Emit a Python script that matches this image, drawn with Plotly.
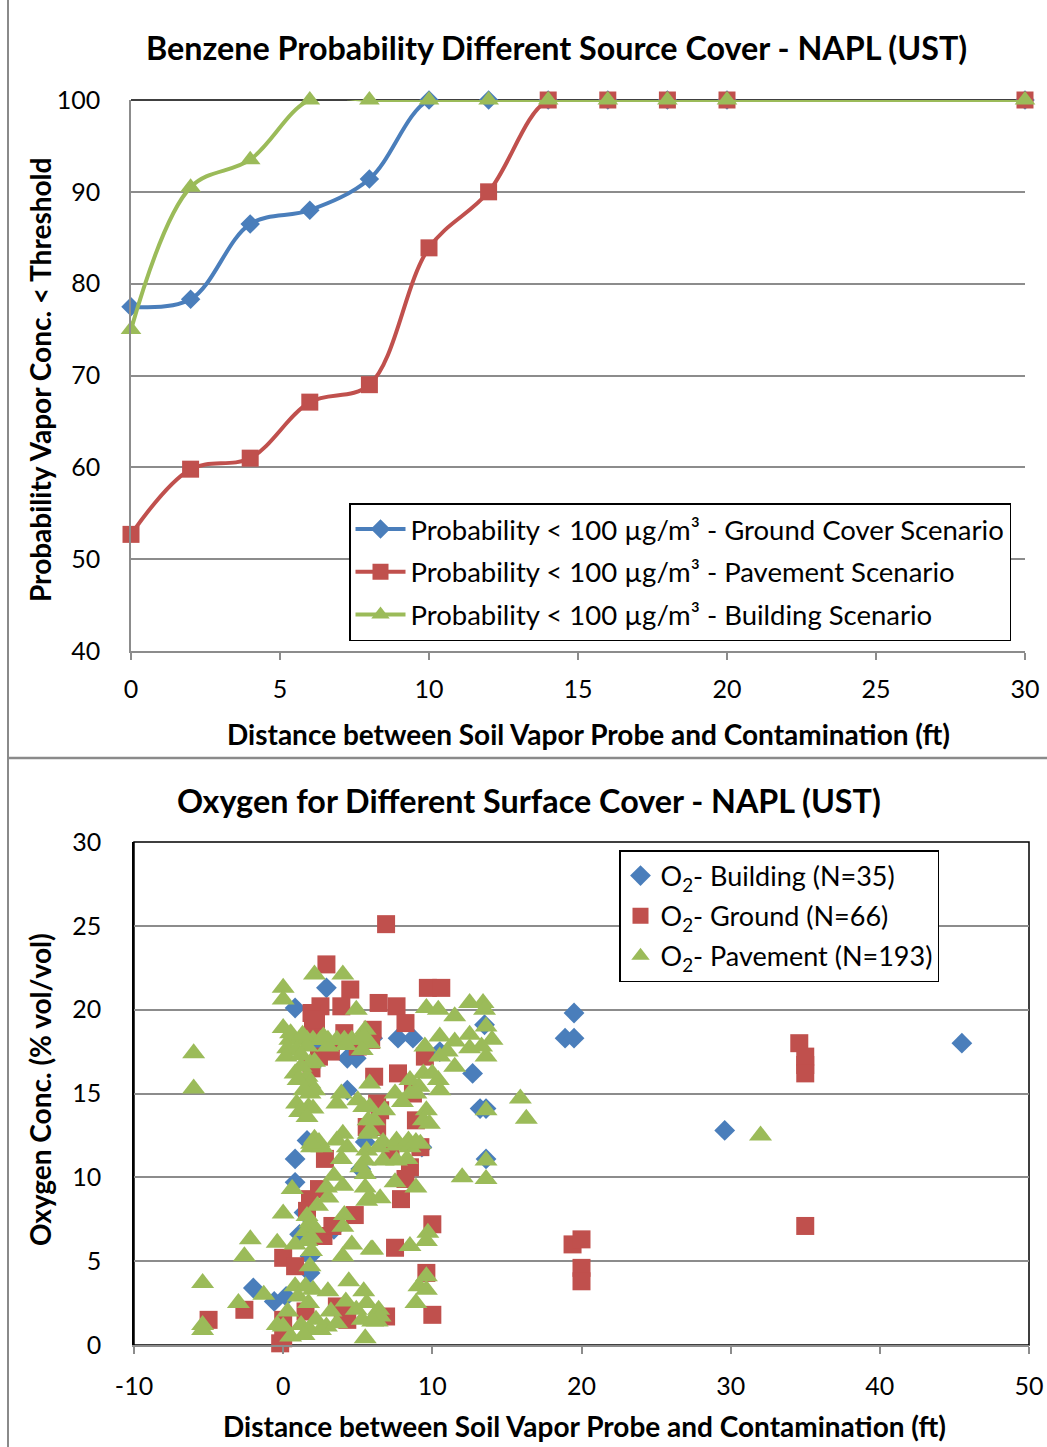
import plotly.graph_objects as go

W, H = 1047, 1447

# ---------------- Top chart data ----------------
dist_top = [0, 2, 4, 6, 8, 10, 12, 14, 16, 18, 20, 30]
ground_prob = [77.5, 78.3, 86.5, 88.0, 91.4, 100, 100, 100, 100, 100, 100, 100]
pavement_prob = [52.7, 59.8, 61.0, 67.1, 69.0, 83.9, 90.0, 100, 100, 100, 100, 100]
building_prob = [75.0, 90.5, 93.5, 100, 100, 100, 100, 100, 100, 100, 100, 100]
top_xticks = [0, 5, 10, 15, 20, 25, 30]
top_yticks = [40, 50, 60, 70, 80, 90, 100]

# ---------------- Bottom chart data ----------------
bot_xticks = [-10, 0, 10, 20, 30, 40, 50]
bot_xlabels = ["-10", "0", "10", "20", "30", "40", "50"]
bot_yticks = [0, 5, 10, 15, 20, 25, 30]

bld_x = [0.8, 2.9, 4.3, 4.9, 7.7, 8.7, 10.5, 13.5, 12.7, 13.2, 13.6, 13.6, 19.5, 18.9, 19.5,
         45.5, 29.6, 0.8, 0.8, 1.6, 5.5, 1.1, 1.8, 1.8, -2.0, -0.6, 0.2, 4.3, 1.9, 2.2,
         5.2, 1.4, 9.3, 6.0, 3.4]
bld_y = [20.1, 21.3, 17.1, 17.1, 18.3, 18.3, 17.5, 19.1, 16.2, 14.1, 14.1, 11.1, 19.8, 18.3, 18.3,
         18.0, 12.8, 11.1, 9.7, 12.2, 12.1, 6.6, 5.3, 4.3, 3.4, 2.6, 2.9, 15.2, 16.6, 18.1,
         10.5, 7.9, 11.8, 18.3, 6.9]

gnd_x = [6.9, 2.9, 4.5, 9.7, 10.6, 2.5, 3.9, 6.4, 7.6, 1.9, 8.2, 2.0, 6.0, 5.9, 4.1,
         2.4, 9.5, 7.7, 6.3, 6.5, 5.6, 6.3, 8.9, 8.7, 2.8, 1.8, 1.6, 4.8, 2.7, 3.3,
         0.0, 0.8, 3.6, 4.3, -2.6, -5.0, 0.0, -0.2, 8.5, 7.9, 10.0, 7.5, 9.6, 10.0, 6.9,
         34.6, 35.0, 35.0, 35.0, 35.0, 19.4, 20.0, 20.0, 20.0, 8.2, 2.2, 1.5, 5.0, 3.2, 7.2,
         9.2, 2.4, 4.0, 0.0, 1.9, 6.1]
gnd_y = [25.1, 22.7, 21.2, 21.3, 21.3, 20.2, 20.2, 20.4, 20.2, 19.8, 19.2, 18.9, 18.8, 18.2, 18.6,
         17.2, 17.2, 16.2, 14.4, 14.0, 13.0, 13.0, 13.4, 15.0, 11.1, 8.7, 8.0, 7.75, 6.5, 7.1,
         5.2, 4.7, 2.3, 1.5, 2.1, 1.5, 1.5, 0.1, 10.6, 8.7, 7.2, 5.8, 4.3, 1.8, 1.7,
         18.0, 17.2, 16.7, 16.2, 7.1, 6.0, 6.3, 4.6, 3.8, 9.9, 19.4, 2.0, 17.8, 17.5, 11.5,
         11.8, 9.3, 1.8, 0.4, 16.5, 16.0]

pav_x = [-6.0, -6.0, -5.4, -5.4, -5.4, -3.0, -2.2, -2.6, -1.3, -0.4, 0.0, 0.6,
         1.6, 1.8, 2.1, 1.5, 1.6, 1.9, 1.8, 3.0, 2.9, 4.0, 4.1, 4.0, 4.6, 4.0, 5.9,
         5.6, 5.5, 5.5, 5.5, 5.6, 3.9, 4.3, 1.9, 2.6, 0.8, 1.5, 2.0, 1.0, 1.7, 3.0,
         -0.4, 0.0, 0.5, 1.2, 1.8, 2.5, 2.9, 3.6, 5.4, 5.6, 4.9, 5.3, 6.3, 6.3, 5.5,
         7.5, 8.9, 12.0, 13.6, 13.6, 8.5, 9.7, 9.6, 9.6, 9.1, 9.6, 8.9, 6.4, 6.5, 6.0,
         6.0, 5.8, 6.5, 6.4, 7.6, 8.5, 9.2, 6.7, 7.6, 8.3,
         9.6, 10.4, 11.5, 12.5, 13.4, 13.5, 10.5, 11.5, 12.5, 12.5, 13.6, 14.0, 13.6,
         9.5, 10.5, 11.5, 5.8, 5.8, 8.5, 9.4, 9.1, 10.4, 10.5, 8.5, 8.9, 7.5, 6.8, 5.8,
         6.1, 9.6, 9.4, 13.6, 15.9, 16.3, 5.8, 6.7, 7.6, 8.4, 8.9,
         2.1, 4.0, 0.0, 0.0, 4.9, 0.0, 0.45, 1.1, 1.6, 2.0, 2.5, 3.0, 3.6, 4.1, 4.6, 5.1,
         5.5, 5.3, 0.3, 0.9, 1.6, 0.2, 1.2, 1.8, 2.1, 0.8, 1.6, 1.8, 1.8, 2.1, 0.9, 1.1,
         1.7, 2.0, 1.6, 3.9, 3.6, 5.0, 5.4, 5.7, 5.7, 4.0, 3.6, 2.1, 2.4, 1.9, 32.0,
         1.4, 2.2, 3.2, 0.3, 4.4, 4.2, 0.8, 5.4, 3.0, 4.2, 0.5, 1.3, 2.7, 1.2, 1.4, 1.0,
         13.3, 11.0, 10.0, 8.0, 9.8, 5.2, 3.4, 2.3, 1.9]
pav_y = [17.4, 15.3, 3.7, 1.2, 0.9, 2.5, 6.3, 5.3, 3.0, 6.1, 7.85, 9.3,
         7.7, 7.3, 7.0, 6.8, 6.2, 5.6, 4.7, 8.8, 9.4, 9.5, 7.75, 7.05, 6.0, 5.3, 5.7,
         8.6, 9.4, 10.2, 11.0, 11.6, 11.1, 11.8, 11.8, 11.8, 3.5, 3.5, 3.3, 2.9, 2.5, 3.2,
         1.2, 1.1, 0.5, 1.2, 0.9, 0.9, 1.1, 1.3, 3.2, 2.5, 2.1, 1.5, 1.9, 1.4, 0.4,
         9.7, 9.4, 10.0, 11.0, 9.9, 5.9, 6.7, 6.2, 4.1, 3.5, 3.3, 2.5, 2.1, 1.7, 1.4,
         5.7, 8.8, 8.75, 11.8, 11.9, 11.8, 12.0, 11.0, 11.0, 11.1,
         20.1, 20.0, 19.6, 20.4, 20.4, 20.0, 18.4, 18.1, 18.5, 17.7, 19.0, 18.2, 17.2,
         17.8, 17.2, 16.6, 18.0, 15.6, 15.8, 16.2, 15.4, 15.8, 15.2, 15.0, 15.0, 15.0, 14.0, 14.2,
         13.4, 14.0, 13.4, 14.0, 14.7, 13.5, 12.8, 12.1, 12.2, 12.2, 12.1,
         22.1, 22.1, 21.3, 20.6, 20.0, 18.9, 18.2, 18.2, 18.2, 18.2, 18.2, 18.2, 18.2, 18.2, 18.2, 18.2,
         18.8, 17.6, 17.7, 17.6, 17.8, 17.2, 17.3, 16.8, 16.9, 16.2, 16.0, 15.6, 15.0, 15.2, 14.4, 13.9,
         14.2, 14.1, 13.6, 15.0, 14.4, 14.6, 14.2, 13.4, 12.6, 12.6, 12.2, 12.3, 12.1, 12.0, 12.5,
         0.6, 1.5, 2.0, 2.0, 3.8, 2.6, 6.0, 18.4, 17.8, 17.9, 18.6, 18.5, 18.4, 16.6, 15.2, 15.8,
         17.8, 17.5, 16.2, 14.5, 13.2, 10.6, 10.1, 8.3, 6.4]

BLUE = "#4A7EBB"
RED = "#C0504D"
GREEN = "#9BBB59"
GRID = "#8C8C8C"
FONT = "Lato"


def px_x(p):
    return p / W


def px_y(p):
    return 1 - p / H


fig = go.Figure()

# ---- top chart traces ----
fig.add_trace(go.Scatter(
    x=dist_top, y=ground_prob, mode="lines+markers",
    name="Probability &lt; 100 µg/m³ - Ground Cover Scenario",
    line=dict(color=BLUE, width=4, shape="spline", smoothing=1.0),
    marker=dict(symbol="diamond", size=15, color=BLUE),
    cliponaxis=False, xaxis="x", yaxis="y", legend="legend", legendgroup="a"))
fig.add_trace(go.Scatter(
    x=dist_top, y=pavement_prob, mode="lines+markers",
    name="Probability &lt; 100 µg/m³ - Pavement Scenario",
    line=dict(color=RED, width=4, shape="spline", smoothing=1.0),
    marker=dict(symbol="square", size=17, color=RED),
    cliponaxis=False, xaxis="x", yaxis="y", legend="legend", legendgroup="b"))
fig.add_trace(go.Scatter(
    x=dist_top, y=building_prob, mode="lines+markers",
    name="Probability &lt; 100 µg/m³ - Building Scenario",
    line=dict(color=GREEN, width=4, shape="spline", smoothing=1.0),
    marker=dict(symbol="triangle-up", size=18, color=GREEN),
    cliponaxis=False, xaxis="x", yaxis="y", legend="legend", legendgroup="c"))

# ---- bottom chart traces ----
fig.add_trace(go.Scatter(
    x=bld_x, y=bld_y, mode="markers", name="O<sub>2</sub>- Building (N=35)",
    marker=dict(symbol="diamond", size=16, color=BLUE),
    cliponaxis=False, xaxis="x2", yaxis="y2", legend="legend2", legendgroup="d"))
fig.add_trace(go.Scatter(
    x=gnd_x, y=gnd_y, mode="markers", name="O<sub>2</sub>- Ground (N=66)",
    marker=dict(symbol="square", size=18, color=RED),
    cliponaxis=False, xaxis="x2", yaxis="y2", legend="legend2", legendgroup="e"))
fig.add_trace(go.Scatter(
    x=pav_x, y=pav_y, mode="markers", name="O<sub>2</sub>- Pavement (N=193)",
    marker=dict(symbol="triangle-up", size=20, color=GREEN),
    cliponaxis=False, xaxis="x2", yaxis="y2", legend="legend2", legendgroup="f"))

tickfont = dict(family=FONT, size=25, color="black")

fig.update_layout(
    template="none",
    width=W, height=H,
    margin=dict(l=0, r=0, t=0, b=0, pad=0),
    paper_bgcolor="white", plot_bgcolor="white",
    font=dict(family=FONT, color="black"),
    xaxis=dict(domain=[px_x(131), px_x(1025)], range=[0, 30], tickvals=top_xticks,
               ticks="outside", ticklen=7, tickcolor=GRID, tickwidth=1.5, showline=True,
               linecolor=GRID, linewidth=1.5, showgrid=False, zeroline=False, tickfont=tickfont,
               ticklabelstandoff=8, anchor="y", automargin=False),
    yaxis=dict(domain=[px_y(651), px_y(100)], range=[40, 100], tickvals=top_yticks,
               showline=True, linecolor=GRID, linewidth=1.5, showgrid=True, gridcolor=GRID,
               gridwidth=1.5, zeroline=False, tickfont=tickfont, ticks="",
               ticklabelstandoff=24, anchor="x", automargin=False),
    xaxis2=dict(domain=[px_x(134), px_x(1029)], range=[-10, 50], tickvals=bot_xticks,
                ticktext=bot_xlabels,
                ticks="outside", ticklen=7, tickcolor=GRID, tickwidth=1.5, showline=True,
                linecolor=GRID, linewidth=1.5, showgrid=False, zeroline=False, tickfont=tickfont,
                ticklabelstandoff=11, anchor="y2", automargin=False),
    yaxis2=dict(domain=[px_y(1345), px_y(842)], range=[0, 30], tickvals=bot_yticks,
                showline=True, linecolor="black", linewidth=1.5, showgrid=True, gridcolor=GRID,
                gridwidth=1.5, zeroline=False, tickfont=tickfont, ticks="",
                ticklabelstandoff=26, anchor="x2", automargin=False),
    legend=dict(x=px_x(349), y=px_y(503), xanchor="left", yanchor="top",
                bordercolor="black", borderwidth=1.5, bgcolor="white",
                font=dict(family=FONT, size=27.5, color="black"),
                tracegroupgap=4, itemwidth=50),
    legend2=dict(x=px_x(619), y=px_y(850), xanchor="left", yanchor="top",
                 bordercolor="black", borderwidth=1.5, bgcolor="white",
                 font=dict(family=FONT, size=27, color="black"),
                 tracegroupgap=2, itemwidth=30),
    showlegend=True,
)

shapes = [
    dict(type="line", xref="x domain", yref="y domain", x0=0, x1=1, y0=1, y1=1,
         line=dict(color="black", width=1.5), layer="below"),
    dict(type="rect", xref="x2 domain", yref="y2 domain", x0=0, x1=1, y0=0, y1=1,
         line=dict(color="black", width=1.5), layer="below"),
    dict(type="line", xref="paper", yref="paper", x0=px_x(8), x1=px_x(8), y0=0, y1=1,
         line=dict(color="#8A8A8A", width=2)),
    dict(type="line", xref="paper", yref="paper", x0=px_x(8), x1=1, y0=px_y(758), y1=px_y(758),
         line=dict(color="#8A8A8A", width=2.5)),
]

bold = dict(family=FONT, size=32.3, color="black", weight="bold")
axis_bold = dict(family=FONT, size=28, color="black", weight="bold")
annotations = [
    dict(text="Benzene Probability Different Source Cover - NAPL (UST)", x=px_x(556), y=px_y(47),
         font=bold),
    dict(text="Distance between Soil Vapor Probe and Contamination (ft)", x=px_x(588), y=px_y(734),
         font=axis_bold),
    dict(text="Probability Vapor Conc. &lt; Threshold", x=px_x(40), y=px_y(380), textangle=-90,
         font=axis_bold),
    dict(text="Oxygen for Different Surface Cover - NAPL (UST)", x=px_x(529), y=px_y(800),
         font=bold),
    dict(text="Distance between Soil Vapor Probe and Contamination (ft)", x=px_x(584), y=px_y(1426),
         font=axis_bold),
    dict(text="Oxygen Conc. (% vol/vol)", x=px_x(40), y=px_y(1090), textangle=-90,
         font=axis_bold),
]
for a in annotations:
    a.update(xref="paper", yref="paper", showarrow=False, xanchor="center", yanchor="middle")

fig.update_layout(shapes=shapes, annotations=annotations)

fig.write_html("out.html", config={"displayModeBar": False},
               post_script="document.body.style.margin='0';document.body.style.overflow='hidden';")
